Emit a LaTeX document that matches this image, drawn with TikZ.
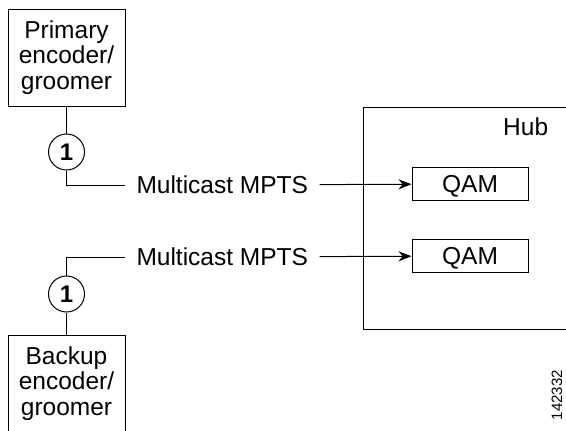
\documentclass[tikz,border=0pt]{standalone}
\usepackage{fontspec}
\setmainfont{Liberation Sans}
\usetikzlibrary{arrows.meta, positioning}

\begin{document}
\begin{tikzpicture}[
         x=1pt, y=-1pt,
         line width=1pt,
         font=\fontsize{24.5}{25.5}\selectfont,
         device/.style={draw, align=center, minimum width=117pt, minimum height=97pt, inner sep=0pt},
         qam/.style={draw, minimum width=116pt, minimum height=33pt, inner sep=0pt, text height=17.5pt, text depth=0pt},
         marker/.style={circle, draw, minimum size=36pt, inner sep=0pt, font=\fontsize{24}{24}\selectfont\bfseries},
         stream/.style={inner xsep=11pt, inner ysep=0pt, text height=17.5pt, text depth=0pt},
         feed/.style={-{Stealth[length=13pt, width=10pt]}}
      ]
         \useasboundingbox (0,0) rectangle (566,431);
         \clip (0,0) rectangle (566,431);

         % Hub with its QAMs
         \node[draw, anchor=north west, minimum width=230pt, minimum height=222pt, inner sep=0pt] (hub) at (363,107) {};
         \node[anchor=base east] (hublabel) at (552,135) {Hub};
         \node[qam] (qam1) at (470,184) {QAM};
         \node[qam] (qam2) at (470,256) {QAM};

         % Encoders/groomers
         \node[device] (primary) at (66.5,57.5) {Primary\\encoder/\\groomer};
         \node[device] (backup) at (66.5,383.5) {Backup\\encoder/\\groomer};
         \node[marker] (c1) at (66.5,152) {1};
         \node[marker] (c2) at (66.5,294) {1};

         % Streams
         \node[stream, anchor=west] (mpts1) at (125,185) {Multicast MPTS};
         \node[stream, anchor=west] (mpts2) at (125,257) {Multicast MPTS};

         \draw (primary) -- (c1);
         \draw (c1) |- (mpts1);
         \draw[feed] (mpts1) -- (qam1);
         \draw (backup) -- (c2);
         \draw (c2) |- (mpts2);
         \draw[feed] (mpts2) -- (qam2);

         % Figure number
         \node[rotate=90, font=\fontsize{15}{15}\selectfont] (figid) at (557,395) {142332};
      \end{tikzpicture}
\end{document}
